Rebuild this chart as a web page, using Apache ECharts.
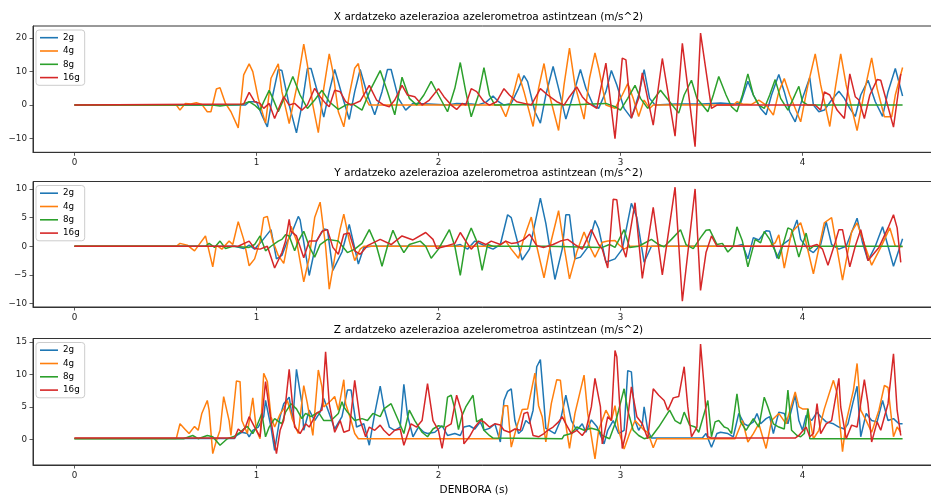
<!DOCTYPE html>
<html>
<head>
<meta charset="utf-8">
<script src="https://cdn.jsdelivr.net/npm/echarts@6/dist/echarts.min.js"></script>
<style>
  html, body { margin: 0; padding: 0; background: #fff; }
  #chart { width: 931px; height: 498px; }
</style>
</head>
<body>
<div id="chart"></div>
<script>
// Accelerometer shake test: acceleration per axis for four measuring ranges.
const rangeNames = ['2g', '4g', '8g', '16g'];
const rangeColors = ['#1f77b4', '#ff7f0e', '#2ca02c', '#d62728'];
const panelTitles = [
  'X ardatzeko azelerazioa azelerometroa astintzean (m/s^2)',
  'Y ardatzeko azelerazioa azelerometroa astintzean (m/s^2)',
  'Z ardatzeko azelerazioa azelerometroa astintzean (m/s^2)'
];
const timeLabel = 'DENBORA (s)';
const timeTicks = [0, 1, 2, 3, 4];
const ticksX = [-10, 0, 10, 20];
const ticksY = [-10, -5, 0, 5, 10];
const ticksZ = [0, 5, 10, 15];

// [time (s), acceleration (m/s^2)]
const accX_2g = [[0,0],[0.94,0],[0.96,1],[1.00,1],[1.03,-3],[1.06,-6.5],[1.09,3],[1.12,10.6],[1.14,10.3],[1.18,0],[1.22,-8.3],[1.25,0],[1.28,10.9],[1.30,10.9],[1.34,3],[1.37,-3.6],[1.40,4],[1.43,10.6],[1.47,3],[1.51,-4.3],[1.54,4],[1.57,10.6],[1.61,3],[1.65,-2.9],[1.69,4],[1.72,10.6],[1.74,10.6],[1.78,2],[1.82,-1.5],[1.86,0.5],[1.95,0.3],[2.05,0],[2.10,0.5],[2.18,0.3],[2.22,0.1],[2.26,0.8],[2.30,2.7],[2.33,1],[2.36,0],[2.40,0.5],[2.44,5],[2.47,8.8],[2.49,7],[2.53,-2],[2.56,-5.4],[2.59,3],[2.63,11.5],[2.66,5],[2.70,-4.2],[2.74,3],[2.78,10.6],[2.81,5],[2.85,0],[2.88,-1],[2.92,4],[2.95,10.3],[2.98,6],[3.02,-1],[3.06,-3.9],[3.10,3],[3.13,10.6],[3.16,2],[3.19,0],[3.30,0.3],[3.45,0.3],[3.55,0.6],[3.62,0.3],[3.66,0.5],[3.70,7.1],[3.73,3],[3.77,-1],[3.80,-2.9],[3.83,3],[3.87,9.1],[3.90,4],[3.93,-2],[3.96,-5],[4.00,2],[4.04,8.2],[4.06,0],[4.09,-2],[4.12,-1.5],[4.16,1.5],[4.20,4.1],[4.23,2],[4.26,-1],[4.29,-3.4],[4.32,3],[4.36,7.4],[4.40,1],[4.44,-3.4],[4.47,4],[4.51,10.9],[4.55,2.7]];
const accX_4g = [[0,0],[0.56,0],[0.58,-1.5],[0.61,0.5],[0.64,0.3],[0.67,0.7],[0.70,0.2],[0.73,-2],[0.75,-2],[0.78,4.8],[0.80,5.2],[0.83,0.5],[0.86,-2],[0.90,-6.8],[0.93,9],[0.96,12.3],[0.98,10],[1.01,2],[1.05,-5.4],[1.08,8],[1.12,12.3],[1.14,4],[1.18,-5.5],[1.22,5],[1.26,18.2],[1.28,12],[1.31,0],[1.34,-8.2],[1.37,5],[1.40,15.3],[1.42,10],[1.45,-2],[1.48,-6.5],[1.51,3],[1.54,11],[1.56,12.4],[1.59,3],[1.62,0],[2.34,0],[2.37,-3.5],[2.41,3],[2.44,9.4],[2.47,4],[2.52,-6.4],[2.55,5],[2.58,12.4],[2.61,3],[2.66,-7.6],[2.69,6],[2.72,17],[2.75,6],[2.80,-4.2],[2.83,8],[2.86,15.6],[2.88,11],[2.92,0],[2.97,-1],[3.01,3],[3.04,6.4],[3.07,2],[3.10,-3.4],[3.13,1.5],[3.16,-1],[3.18,0],[3.62,0],[3.64,1],[3.67,0.3],[3.72,0.2],[3.76,1.5],[3.80,0],[3.84,-3],[3.87,4],[3.90,7.9],[3.93,3],[3.99,-5],[4.03,6],[4.07,15.3],[4.10,6],[4.15,-6.4],[4.18,5],[4.21,15.3],[4.24,6],[4.30,-7.6],[4.34,4],[4.38,14.1],[4.41,5],[4.45,-3.5],[4.49,-3.5],[4.51,3],[4.55,11.2]];
const accX_8g = [[0,0],[0.76,0],[0.80,-0.3],[0.84,0],[0.92,0.2],[0.96,1],[0.99,0],[1.02,-1.5],[1.04,1],[1.07,4.4],[1.09,2],[1.12,-2],[1.16,3],[1.20,8.5],[1.24,3],[1.28,-1],[1.32,1.5],[1.36,4.4],[1.40,1],[1.45,-1.3],[1.49,0],[1.53,0.3],[1.58,-1.5],[1.63,5],[1.68,10.3],[1.72,4],[1.76,-2.9],[1.80,8.3],[1.84,2],[1.88,0],[1.92,3],[1.96,7.1],[2.00,3],[2.05,-2],[2.09,5],[2.12,12.7],[2.15,4],[2.18,-3.5],[2.22,3],[2.25,11.2],[2.28,3],[2.31,0],[2.50,0.2],[2.75,0.1],[2.92,0.5],[2.97,-0.5],[3.00,-1.5],[3.04,2],[3.08,5.9],[3.11,2],[3.15,-1],[3.18,1.5],[3.22,4.4],[3.27,1],[3.32,-2.4],[3.35,3],[3.39,7.4],[3.42,2],[3.45,0],[3.48,-2],[3.51,3],[3.54,8.5],[3.58,3],[3.61,-0.5],[3.64,-2],[3.67,3],[3.70,9.3],[3.73,3],[3.76,0],[3.79,-1],[3.82,3],[3.85,7.6],[3.88,2],[3.92,-1.5],[3.95,2],[3.98,5.6],[4.00,1],[4.03,0],[4.55,0]];
const accX_16g = [[0,0],[0.93,0.3],[0.96,3.8],[0.99,1],[1.02,0.5],[1.04,-1],[1.07,0.5],[1.10,-4],[1.13,0],[1.15,2.5],[1.18,0],[1.21,0.5],[1.25,-1.5],[1.28,0],[1.32,5],[1.35,2.5],[1.38,0.5],[1.40,-0.5],[1.43,4.4],[1.46,4],[1.49,1],[1.52,0],[1.57,1.2],[1.62,5.9],[1.66,1.5],[1.70,0],[1.73,-0.5],[1.76,1.5],[1.80,5.9],[1.83,3],[1.87,2.5],[1.91,0],[1.95,1.5],[2.00,4.9],[2.03,2.5],[2.07,0],[2.10,-1.3],[2.13,0.5],[2.15,0],[2.18,4.9],[2.21,4],[2.25,1],[2.28,0],[2.32,1],[2.36,4.9],[2.39,3],[2.43,1],[2.47,0.5],[2.51,0],[2.56,4.9],[2.60,3],[2.65,1],[2.69,0],[2.72,2.5],[2.76,5.4],[2.79,2.5],[2.82,0.7],[2.87,-1],[2.92,12.5],[2.97,-10],[3.01,14],[3.03,13.5],[3.06,-3.9],[3.10,2],[3.12,9.6],[3.18,-6],[3.23,13.9],[3.30,-9.3],[3.34,18.4],[3.41,-12.4],[3.44,21.5],[3.50,-1],[3.53,0],[4.07,0],[4.10,-1.5],[4.12,3.9],[4.15,3],[4.19,-1.5],[4.23,-4],[4.26,9.3],[4.29,2.5],[4.31,1.5],[4.34,-4],[4.37,3],[4.41,7.6],[4.43,7.4],[4.46,1.5],[4.50,-6.6],[4.54,9.3]];

const accY_2g = [[0,0],[0.88,0],[0.93,-0.4],[0.96,0.2],[0.99,-0.5],[1.03,0.9],[1.08,2.9],[1.11,-2.2],[1.14,-1.6],[1.17,0.9],[1.19,2],[1.23,5.2],[1.24,4.6],[1.29,-5.1],[1.33,0.9],[1.37,3],[1.39,2.9],[1.42,-4.2],[1.47,-1],[1.51,3.8],[1.56,-3.1],[1.59,-0.2],[1.63,0],[2.08,0],[2.12,0.3],[2.16,-0.5],[2.20,0.9],[2.22,0.6],[2.26,0],[2.30,-0.5],[2.34,0.3],[2.38,5.5],[2.40,5],[2.46,-2.4],[2.50,-0.5],[2.56,8.4],[2.59,4],[2.64,-5.8],[2.68,-0.5],[2.70,5.5],[2.72,5.5],[2.75,-2.2],[2.78,-1.9],[2.82,-0.2],[2.86,4.5],[2.88,3.1],[2.92,-2.8],[2.97,-2.2],[3.01,-0.5],[3.06,7.5],[3.09,5],[3.13,-2.8],[3.17,0],[3.60,0],[3.63,0],[3.67,0.3],[3.70,-2.2],[3.73,1.5],[3.76,1.1],[3.80,2.7],[3.82,2.6],[3.86,-2.1],[3.89,0.3],[3.93,1.2],[3.97,4.6],[3.99,1.2],[4.03,-0.5],[4.06,-1.1],[4.10,0.3],[4.13,4.3],[4.16,0.3],[4.20,-0.5],[4.24,0],[4.30,4.9],[4.33,0.6],[4.36,-2.5],[4.40,0],[4.44,3.4],[4.47,0],[4.50,-3.5],[4.55,1.3]];
const accY_4g = [[0,0],[0.56,0],[0.58,0.5],[0.62,0.2],[0.66,-0.8],[0.69,0.5],[0.72,1.8],[0.76,-3.6],[0.78,0.2],[0.81,-0.5],[0.85,0.9],[0.87,0.3],[0.90,4.3],[0.93,1.2],[0.96,-3.4],[0.99,-2.2],[1.02,0.9],[1.04,5],[1.06,5.2],[1.09,0.9],[1.12,-1.6],[1.15,-3],[1.19,3.5],[1.22,1],[1.26,-6.2],[1.29,-2],[1.32,5],[1.35,7.7],[1.38,0],[1.40,-7.5],[1.43,-2],[1.46,3],[1.48,5.6],[1.51,1],[1.54,-2.5],[1.57,-0.5],[1.59,0],[2.33,0],[2.37,0.9],[2.40,-0.5],[2.44,-2.1],[2.47,1.5],[2.51,5.1],[2.54,0],[2.58,-5.5],[2.62,1],[2.66,6.2],[2.69,0],[2.72,-5.7],[2.76,-1],[2.80,2.5],[2.83,0],[2.86,-1.9],[2.90,0.7],[2.93,0.9],[2.97,1],[2.99,0.3],[3.02,-0.5],[3.05,0],[3.82,0],[3.85,0.6],[3.87,2],[3.90,-3.8],[3.94,2.4],[3.99,4.1],[4.01,2],[4.06,-4.8],[4.12,4.1],[4.16,5],[4.22,-5.9],[4.27,2.5],[4.30,4.1],[4.38,-3.3],[4.43,-0.2],[4.48,3.2],[4.51,0],[4.55,-0.1]];
const accY_8g = [[0,0],[0.72,0],[0.74,0.5],[0.77,-0.2],[0.80,0.9],[0.83,-0.4],[0.87,0],[0.96,-0.2],[0.99,0.3],[1.02,1.8],[1.05,-0.8],[1.08,0],[1.12,0.9],[1.14,1.2],[1.16,2],[1.18,1.8],[1.21,-0.8],[1.23,0.9],[1.26,2.6],[1.29,0],[1.32,-1.9],[1.35,0.3],[1.39,1.2],[1.45,0.9],[1.50,-1.1],[1.54,-0.5],[1.58,0.5],[1.62,2.9],[1.66,0],[1.69,-3.5],[1.72,0],[1.75,2.8],[1.78,0.6],[1.81,-1.1],[1.84,0.3],[1.90,0.9],[1.93,0],[1.96,-2.1],[2.00,-0.5],[2.06,2.9],[2.09,0],[2.12,-5.1],[2.15,0.9],[2.18,3.2],[2.21,0.9],[2.24,-4.2],[2.27,0.3],[2.30,0],[2.60,0],[2.90,-0.2],[2.94,0.3],[2.97,-0.2],[3.02,2.9],[3.05,-0.2],[3.10,0],[3.17,1.2],[3.21,0.3],[3.24,-0.1],[3.28,1.2],[3.33,2.9],[3.36,0.3],[3.40,-0.4],[3.44,1.5],[3.47,2.8],[3.49,2.9],[3.53,0.3],[3.56,0.5],[3.59,-1],[3.62,0],[3.64,3.4],[3.67,0.9],[3.68,0.6],[3.70,-3.6],[3.74,1.2],[3.77,0.6],[3.79,2.6],[3.82,1.2],[3.87,-2.2],[3.92,3.2],[3.94,2.9],[3.98,-1.9],[4.02,2.3],[4.04,-0.5],[4.06,0],[4.55,0]];
const accY_16g = [[0,0],[0.90,0],[0.96,0.9],[0.99,-0.4],[1.02,-0.5],[1.06,0],[1.10,-3.8],[1.14,-1.1],[1.16,0.9],[1.18,4.7],[1.19,2.6],[1.22,1.8],[1.26,-2],[1.29,0.9],[1.33,0.9],[1.36,2.6],[1.39,2.9],[1.42,-0.2],[1.45,-1.4],[1.48,2.1],[1.51,2.3],[1.54,-0.8],[1.57,-1.4],[1.61,0.1],[1.68,1.2],[1.74,0.3],[1.80,1.8],[1.86,1.1],[1.93,2.4],[1.97,1.2],[1.99,-0.4],[2.04,0],[2.09,0.5],[2.12,2.4],[2.15,0.9],[2.18,-0.5],[2.22,0.9],[2.26,0.3],[2.29,0.9],[2.34,0.3],[2.37,0.9],[2.40,0.5],[2.43,0.6],[2.47,1.2],[2.50,2.1],[2.54,0.1],[2.58,-0.2],[2.63,0.3],[2.67,0.9],[2.71,1.2],[2.75,0.3],[2.79,-0.5],[2.84,2.9],[2.88,0.3],[2.90,-0.5],[2.93,-3.8],[2.96,8.2],[2.98,8.1],[3.01,0],[3.03,-1.9],[3.08,7.6],[3.12,-5.6],[3.18,6.8],[3.23,-5],[3.30,10.3],[3.34,-9.6],[3.41,10],[3.44,-7.7],[3.47,-1.1],[3.50,1.8],[3.53,0],[4.05,0],[4.08,0.3],[4.11,-0.5],[4.14,-3.3],[4.18,0.7],[4.20,2.9],[4.22,2.9],[4.26,-3.6],[4.29,0],[4.32,2.9],[4.36,-2.5],[4.42,-0.2],[4.47,3.2],[4.50,5.5],[4.52,3.2],[4.54,-2.8]];

const accZ_2g = [[0,0.15],[0.88,0.15],[0.89,0.6],[0.92,1.1],[0.95,0.9],[0.96,0.4],[0.98,1.4],[1.01,1.9],[1.04,3.5],[1.05,6.0],[1.08,1.9],[1.10,-1.7],[1.13,3.5],[1.15,5.5],[1.18,6.5],[1.20,2.9],[1.22,10.8],[1.25,5.5],[1.26,1.4],[1.29,4.5],[1.32,2.9],[1.35,4.2],[1.37,6.3],[1.40,4.0],[1.43,1.6],[1.47,3.5],[1.50,7.6],[1.52,7.6],[1.55,1.9],[1.59,2.4],[1.62,-0.9],[1.65,4.0],[1.68,8.2],[1.70,5.0],[1.73,1.9],[1.76,1.4],[1.79,1.9],[1.81,8.5],[1.83,3.7],[1.86,0.4],[1.89,1.9],[1.92,1.1],[1.94,0.9],[1.98,1.1],[2.02,2.1],[2.05,0.6],[2.09,0.9],[2.12,0.6],[2.14,1.9],[2.17,2.1],[2.20,1.6],[2.23,2.7],[2.25,1.4],[2.28,1.7],[2.31,2.4],[2.34,-0.4],[2.36,6.0],[2.38,7.4],[2.40,7.8],[2.42,2.9],[2.44,0.9],[2.46,1.4],[2.48,2.9],[2.50,2.4],[2.52,4.5],[2.54,11.2],[2.56,12.3],[2.58,5.5],[2.59,1.7],[2.61,1.4],[2.64,0.9],[2.67,2.9],[2.70,6.8],[2.73,2.9],[2.76,1.4],[2.79,2.4],[2.81,1.1],[2.84,3.0],[2.87,2.0],[2.91,-0.7],[2.93,1.4],[2.96,2.9],[2.99,0.9],[3.02,1.4],[3.04,10.6],[3.06,10.4],[3.08,2.9],[3.10,1.4],[3.12,2.4],[3.13,5.0],[3.15,1.4],[3.17,0.2],[3.45,0.2],[3.47,0.9],[3.50,-1.2],[3.53,0.9],[3.55,1.1],[3.59,0.9],[3.62,0.4],[3.65,4.0],[3.68,2.4],[3.70,2.1],[3.73,2.7],[3.75,4.0],[3.77,2.4],[3.80,3.2],[3.82,3.5],[3.84,0.9],[3.87,4.2],[3.90,4.0],[3.92,2.4],[3.96,6.8],[3.98,2.9],[4.00,1.4],[4.02,3.7],[4.05,2.9],[4.08,4.2],[4.10,3.5],[4.13,2.7],[4.17,2.4],[4.20,1.9],[4.23,1.6],[4.25,2.4],[4.28,6.0],[4.30,8.2],[4.32,0.4],[4.35,4.0],[4.38,2.9],[4.41,2.7],[4.44,6.0],[4.47,2.9],[4.50,3.2],[4.53,2.4],[4.55,2.4]];
const accZ_4g = [[0,0.15],[0.56,0.15],[0.58,2.4],[0.61,1.5],[0.63,0.9],[0.66,2.0],[0.68,1.4],[0.70,4.0],[0.73,6.0],[0.74,4.5],[0.76,-2.2],[0.78,-0.2],[0.80,1.4],[0.82,6.6],[0.85,2.9],[0.86,0.6],[0.89,9.0],[0.91,8.9],[0.92,2.9],[0.95,0.9],[0.98,6.4],[1.00,1.4],[1.02,0.1],[1.04,10.2],[1.06,8.9],[1.08,3.5],[1.10,1.9],[1.13,3.9],[1.15,4.7],[1.17,6.0],[1.20,2.9],[1.23,0.9],[1.26,8.3],[1.28,5.5],[1.31,0.6],[1.34,10.7],[1.36,8.1],[1.37,5.0],[1.41,6.0],[1.43,6.6],[1.45,4.5],[1.48,9.2],[1.49,5.5],[1.52,2.9],[1.54,0.9],[1.56,0.1],[2.33,0.1],[2.36,5.2],[2.38,5.2],[2.40,-1.2],[2.43,1.9],[2.46,4.6],[2.49,4.7],[2.53,10.2],[2.55,5.2],[2.57,3.5],[2.59,-0.4],[2.62,5.5],[2.65,9.2],[2.67,9.1],[2.69,4.0],[2.72,-1.4],[2.75,4.0],[2.80,9.9],[2.82,4.0],[2.86,-3.0],[2.88,1.4],[2.92,4.5],[2.95,2.9],[2.97,5.2],[2.99,1.4],[3.02,-1.5],[3.05,0.9],[3.08,2.9],[3.13,1.4],[3.15,1.1],[3.18,-1.3],[3.20,0.1],[3.63,0.1],[3.67,2.9],[3.70,-0.4],[3.73,0.9],[3.76,2.4],[3.80,-1.4],[3.83,2.9],[3.87,4.0],[3.91,2.4],[3.96,7.3],[3.98,5.0],[4.00,4.7],[4.03,4.7],[4.06,0.1],[4.09,1.4],[4.12,4.7],[4.17,9.1],[4.19,7.1],[4.22,-1.9],[4.24,2.7],[4.28,7.6],[4.30,11.7],[4.32,4.5],[4.35,2.9],[4.38,1.1],[4.42,4.5],[4.45,8.3],[4.47,8.0],[4.50,0.4],[4.52,1.9],[4.54,1.1]];
const accZ_8g = [[0,0.1],[0.60,0.1],[0.63,0.4],[0.65,0.6],[0.68,0.1],[0.73,0.6],[0.76,0.4],[0.80,-0.9],[0.84,0.1],[0.88,0.5],[0.91,1.1],[0.93,1.6],[0.95,2.0],[0.98,0.9],[1.00,1.9],[1.03,4.0],[1.05,0.4],[1.07,1.9],[1.10,3.2],[1.14,2.4],[1.16,4.2],[1.19,5.5],[1.22,4.7],[1.25,3.2],[1.27,4.0],[1.30,3.5],[1.34,4.2],[1.37,2.9],[1.41,2.9],[1.45,4.0],[1.47,5.8],[1.48,5.0],[1.50,4.2],[1.54,2.9],[1.58,3.2],[1.61,2.9],[1.64,4.0],[1.68,3.5],[1.70,4.7],[1.74,5.5],[1.78,2.9],[1.81,0.9],[1.84,4.5],[1.87,2.9],[1.91,1.1],[1.94,0.4],[1.97,1.6],[2.00,2.1],[2.03,1.9],[2.05,6.5],[2.07,6.8],[2.09,4.7],[2.11,1.5],[2.13,3.7],[2.15,5.0],[2.19,6.8],[2.21,2.7],[2.24,3.2],[2.25,1.4],[2.28,0.6],[2.30,0.2],[2.68,0.1],[2.69,0.6],[2.73,0.9],[2.76,1.9],[2.80,1.4],[2.84,1.7],[2.88,1.4],[2.90,0.6],[2.94,0.1],[2.97,2.4],[2.99,4.5],[3.02,7.8],[3.04,4.5],[3.07,1.4],[3.10,0.6],[3.13,0.1],[3.17,0.4],[3.21,1.9],[3.24,3.2],[3.27,4.5],[3.30,2.9],[3.33,2.4],[3.35,4.2],[3.38,2.2],[3.41,1.9],[3.43,1.1],[3.46,4.0],[3.48,6.0],[3.50,0.4],[3.52,2.7],[3.54,2.9],[3.57,1.9],[3.59,1.7],[3.61,0.9],[3.64,7.0],[3.66,2.7],[3.69,1.4],[3.73,3.2],[3.76,1.9],[3.79,6.5],[3.81,5.0],[3.84,2.4],[3.87,1.9],[3.90,1.6],[3.92,7.6],[3.94,1.4],[3.97,0.6],[3.99,0.4],[4.01,0.9],[4.03,4.7],[4.04,0.1],[4.55,0.1]];
const accZ_16g = [[0,0.2],[0.88,0.2],[0.90,1.6],[0.92,1.1],[0.94,1.9],[0.96,3.5],[0.99,1.9],[1.02,0.4],[1.05,8.9],[1.08,2.9],[1.11,-2.2],[1.13,1.4],[1.15,2.9],[1.18,10.8],[1.21,1.9],[1.24,0.9],[1.27,2.4],[1.29,1.9],[1.33,4.0],[1.36,4.5],[1.38,13.5],[1.40,5.5],[1.43,1.1],[1.46,2.9],[1.48,1.1],[1.51,1.4],[1.54,9.1],[1.57,2.9],[1.60,0.4],[1.62,1.9],[1.65,1.4],[1.68,2.2],[1.70,1.4],[1.73,0.6],[1.76,1.4],[1.79,1.6],[1.81,-0.9],[1.85,2.4],[1.88,1.9],[1.91,2.9],[1.94,8.6],[1.97,2.9],[2.00,1.4],[2.02,-1.4],[2.04,1.9],[2.07,2.4],[2.10,6.8],[2.13,4.0],[2.14,-0.7],[2.17,0.4],[2.20,1.9],[2.23,2.9],[2.25,2.7],[2.28,1.9],[2.31,2.4],[2.34,2.2],[2.36,1.4],[2.39,1.1],[2.42,1.6],[2.45,1.4],[2.47,4.0],[2.49,4.2],[2.52,0.6],[2.55,0.4],[2.58,0.9],[2.60,1.4],[2.63,1.9],[2.66,2.7],[2.68,3.5],[2.70,2.4],[2.73,0.9],[2.76,1.4],[2.79,0.6],[2.81,1.4],[2.84,5.0],[2.86,9.4],[2.89,5.0],[2.90,-0.7],[2.93,3.5],[2.95,2.9],[2.97,13.7],[2.98,12.7],[3.01,-1.4],[3.03,0.9],[3.06,8.1],[3.09,3.5],[3.12,2.4],[3.15,0.1],[3.18,7.8],[3.21,6.8],[3.24,6.0],[3.26,4.5],[3.29,6.4],[3.32,6.6],[3.35,11.2],[3.37,5.0],[3.39,0.4],[3.42,1.9],[3.44,14.7],[3.46,8.0],[3.48,0.4],[3.50,0.2],[3.96,0.2],[3.98,0.6],[3.99,0.4],[4.02,1.9],[4.04,0.4],[4.06,0.9],[4.08,5.5],[4.10,0.9],[4.13,2.4],[4.16,2.9],[4.20,9.4],[4.21,5.0],[4.24,0.1],[4.27,2.2],[4.30,1.9],[4.34,9.2],[4.36,5.5],[4.38,-0.4],[4.41,2.7],[4.43,1.4],[4.47,5.5],[4.50,13.2],[4.52,4.5],[4.54,0.6]];

// Panel layout (pixels) and value ranges
const FONT = 'DejaVu Sans';
const panels = [
  { title: panelTitles[0], top: 26,    height: 126.3, min: -14.1, max: 23.6,  ticks: ticksX, series: [accX_2g, accX_4g, accX_8g, accX_16g], titleY: 17 },
  { title: panelTitles[1], top: 181.5, height: 125.5, min: -10.6, max: 11.3,  ticks: ticksY, series: [accY_2g, accY_4g, accY_8g, accY_16g], titleY: 173 },
  { title: panelTitles[2], top: 338.5, height: 126.5, min: -3.95, max: 15.55, ticks: ticksZ, series: [accZ_2g, accZ_4g, accZ_8g, accZ_16g], titleY: 330 }
];
// The plotting area runs past the right edge of the canvas.
const GRID_LEFT = 33, GRID_WIDTH = 911;
const minus = v => String(v).replace('-', '\u2212');

const grid = [], xAxis = [], yAxis = [], legend = [], series = [], graphic = [];
panels.forEach((p, i) => {
  grid.push({ left: GRID_LEFT, top: p.top, width: GRID_WIDTH, height: p.height,
    show: true, borderColor: '#333', borderWidth: 1, containLabel: false, outerBoundsMode: 'none' });
  xAxis.push({
    type: 'value', gridIndex: i, min: -0.2275, max: 4.7775,
    axisLine: { show: true, onZero: false, lineStyle: { color: '#333', width: 1 } },
    axisTick: { show: true, length: 3.5, customValues: timeTicks, lineStyle: { color: '#333', width: 0.8 } },
    axisLabel: { customValues: timeTicks, margin: 6, fontSize: 8.75, fontFamily: FONT, color: '#222' },
    splitLine: { show: false }
  });
  yAxis.push({
    type: 'value', gridIndex: i, min: p.min, max: p.max,
    axisLine: { show: true, onZero: false, lineStyle: { color: '#333', width: 1 } },
    axisTick: { show: true, length: 3.5, customValues: p.ticks, lineStyle: { color: '#333', width: 0.8 } },
    axisLabel: { customValues: p.ticks, margin: 6, fontSize: 8.75, fontFamily: FONT, color: '#222', formatter: minus },
    splitLine: { show: false }
  });
  legend.push({
    orient: 'vertical', left: 36, top: p.top + 4, data: rangeNames, selectedMode: false,
    icon: 'rect', itemWidth: 18, itemHeight: 1.6, itemGap: 3.3,
    padding: [2.7, 5, 2.7, 4],
    borderColor: '#cccccc', borderWidth: 1, borderRadius: 3,
    backgroundColor: 'rgba(255,255,255,0.8)',
    textStyle: { fontSize: 8.75, fontFamily: FONT, color: '#000', lineHeight: 10 }
  });
  p.series.forEach((d, k) => {
    series.push({
      name: rangeNames[k], type: 'line', xAxisIndex: i, yAxisIndex: i, data: d,
      showSymbol: false, symbol: 'none', clip: true, color: rangeColors[k],
      lineStyle: { width: 1.5, color: rangeColors[k] }, emphasis: { disabled: true }
    });
  });
  graphic.push({ type: 'text', x: GRID_LEFT + GRID_WIDTH / 2, y: p.titleY,
    style: { text: p.title, fontSize: 10.5, fontFamily: FONT, fill: '#000', align: 'center', verticalAlign: 'middle' } });
});
graphic.push({ type: 'text', x: 474, y: 490,
  style: { text: timeLabel, fontSize: 10.5, fontFamily: FONT, fill: '#000', align: 'center', verticalAlign: 'middle' } });

const chart = echarts.init(document.getElementById('chart'), null, { renderer: 'canvas' });
chart.setOption({
  animation: false,
  backgroundColor: '#fff',
  grid, xAxis, yAxis, legend, series, graphic
});
</script>
</body>
</html>
